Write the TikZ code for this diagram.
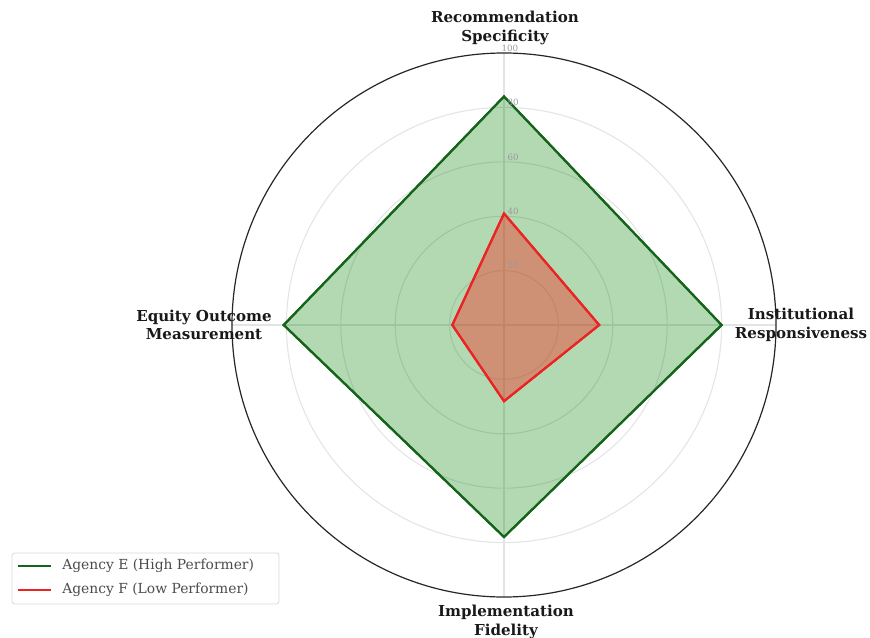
\documentclass[tikz,border=0pt]{standalone}
\usepackage{fontspec}
\setmainfont{DejaVu Serif}
\definecolor{lineE}{RGB}{20,100,25}
\definecolor{fillE}{RGB}{0,128,0}
\definecolor{lineF}{RGB}{235,35,35}
\definecolor{fillF}{RGB}{255,30,20}
\definecolor{gridc}{RGB}{228,228,228}
\tikzset{
  gridcircle/.style={draw=gridc, line width=0.8pt},
  spoke/.style={draw=gridc, line width=0.8pt},
  outer/.style={draw=black!85, line width=0.9pt},
  ticklab/.style={text=gray!80, font=\fontsize{6.5}{7}\selectfont, inner sep=1pt, anchor=south west},
  axislab/.style={font=\bfseries\fontsize{11.3}{14}\selectfont, align=center, inner sep=0pt, text=black!90},
  polyE/.style={draw=lineE, line width=1.6pt, fill=fillE, fill opacity=0.3, line join=miter},
  polyF/.style={draw=lineF, line width=1.6pt, fill=fillF, fill opacity=0.38, line join=miter},
  legbox/.style={draw=gray!30, fill=white, rounded corners=2pt, line width=0.6pt},
  legtext/.style={font=\fontsize{10.4}{12}\selectfont, text=black!70, anchor=west, inner sep=0pt}
}
\begin{document}
\begin{tikzpicture}[x=0.75pt,y=-0.75pt]
\useasboundingbox (0,0) rectangle (870,638);
\coordinate (c) at (504,325);
% grid
\foreach \r in {40.8,81.6,122.4,163.2}{
  \draw[gridcircle] (c) circle[radius=\r pt];
}
\coordinate (tN) at (504,53);
\coordinate (tE) at (776,325);
\coordinate (tS) at (504,597);
\coordinate (tW) at (232,325);
\draw[spoke] (c) -- (tN);
\draw[spoke] (c) -- (tE);
\draw[spoke] (c) -- (tS);
\draw[spoke] (c) -- (tW);
% polygons
\coordinate (eN) at (504,96.5);
\coordinate (eE) at (721.6,325);
\coordinate (eS) at (504,537);
\coordinate (eW) at (283.7,325);
\coordinate (fN) at (504,213.5);
\coordinate (fE) at (599.2,325);
\coordinate (fS) at (504,401.2);
\coordinate (fW) at (452.3,325);
\path[polyE] (eN) -- (eE) -- (eS) -- (eW) -- cycle;
\path[polyF] (fN) -- (fE) -- (fS) -- (fW) -- cycle;
\draw[polyE, fill=none] (eN) -- (eE) -- (eS) -- (eW) -- cycle;
\draw[polyF, fill=none] (fN) -- (fE) -- (fS) -- (fW) -- cycle;
% outer circle
\draw[outer] (c) circle[radius=204pt];
% tick labels
\node[ticklab] (l20) at (506,270.6) {20};
\node[ticklab] (l40) at (506,216.2) {40};
\node[ticklab] (l60) at (506,161.8) {60};
\node[ticklab] (l80) at (506,107.4) {80};
\node[ticklab] (l100) at (500,53) {100};
% axis labels
\node[axislab] (aN) at (505,28) {Recommendation\\Specificity};
\node[axislab] (aE) at (801,325) {Institutional\\Responsiveness};
\node[axislab] (aS) at (506,622) {Implementation\\Fidelity};
\node[axislab] (aW) at (204,325) {Equity Outcome\\Measurement};
% legend
\draw[legbox] (12,553) rectangle (279,604);
\coordinate (le1) at (18,566);
\coordinate (le2) at (51,566);
\coordinate (lf1) at (18,590);
\coordinate (lf2) at (51,590);
\draw[draw=lineE, line width=1.6pt] (le1) -- (le2);
\draw[draw=lineF, line width=1.6pt] (lf1) -- (lf2);
\node[legtext] (tE1) at (62,566) {Agency E (High Performer)};
\node[legtext] (tF1) at (62,590) {Agency F (Low Performer)};
\end{tikzpicture}
\end{document}
